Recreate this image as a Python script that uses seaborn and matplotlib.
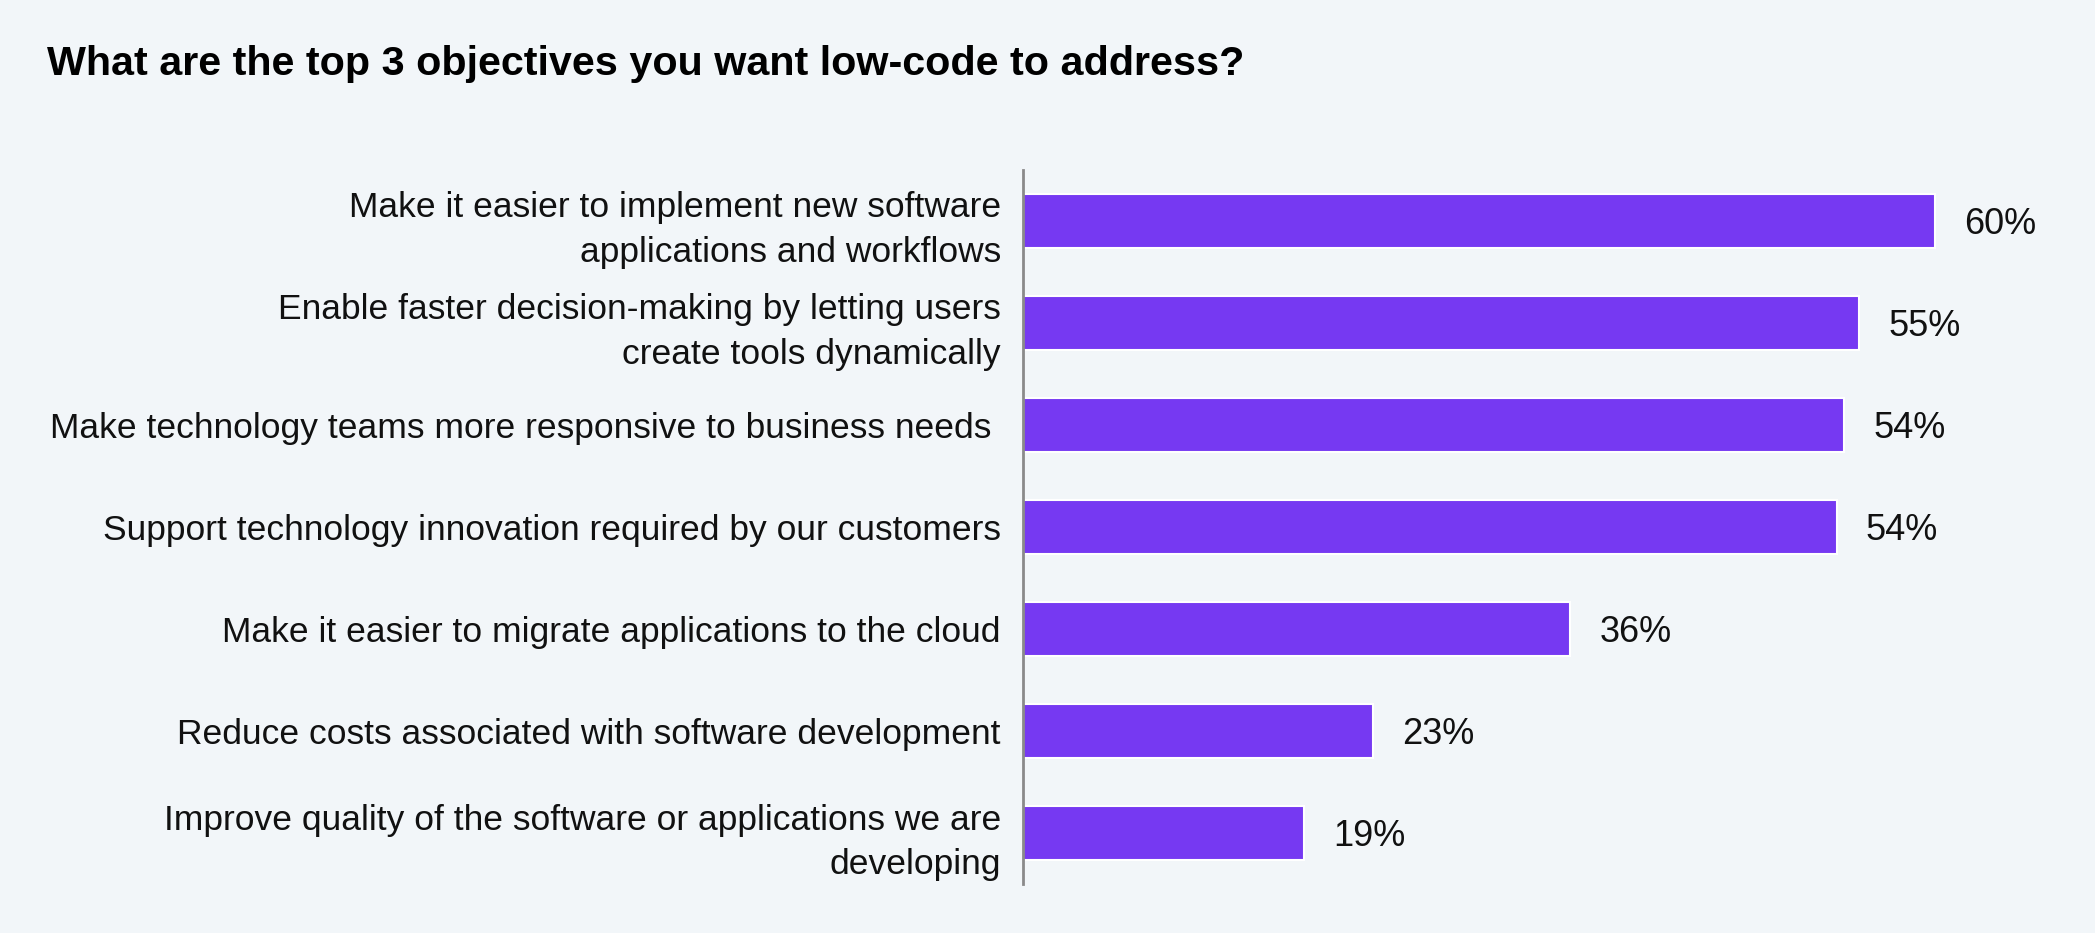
import matplotlib
matplotlib.use("Agg")
import matplotlib.pyplot as plt
import seaborn as sns
import pandas as pd

objectives = [
    "Make it easier to implement new software\napplications and workflows",
    "Enable faster decision-making by letting users\ncreate tools dynamically",
    "Make technology teams more responsive to business needs ",
    "Support technology innovation required by our customers",
    "Make it easier to migrate applications to the cloud",
    "Reduce costs associated with software development",
    "Improve quality of the software or applications we are\ndeveloping",
]
shares = [60, 55, 54, 53.5, 36, 23, 18.5]
value_labels = ["60%", "55%", "54%", "54%", "36%", "23%", "19%"]

bg = "#F2F6F9"
bar_color = "#7639F2"

sns.set_theme(style="white")
plt.rcParams["font.family"] = ["Liberation Sans", "DejaVu Sans"]

df = pd.DataFrame({"objective": objectives, "share": shares})

fig = plt.figure(figsize=(20.95, 9.33), dpi=100)
fig.patch.set_facecolor(bg)
ax = fig.add_axes([0.4883, 0.0525, 0.5117, 0.7653])
ax.set_facecolor(bg)

sns.barplot(data=df, y="objective", x="share", orient="h", color=bar_color,
            saturation=1, width=0.52, edgecolor="white", linewidth=1.5, ax=ax)

texts = ax.bar_label(ax.containers[0], labels=value_labels, padding=21,
                     fontsize=26, color="#111111")
# nudge the value labels down a touch, like the reference
for t in texts:
    t.xyann = (21, -2.5)

ax.set_xlim(0, 70.5)
ax.set_ylim(6.5, -0.5)
ax.set_xlabel("")
ax.set_ylabel("")
ax.set_xticks([])
for s in ["top", "right", "bottom"]:
    ax.spines[s].set_visible(False)
ax.spines["left"].set_color("#8a8a8a")
ax.spines["left"].set_linewidth(2)
ax.tick_params(axis="y", length=0, pad=16, labelsize=25.5, labelcolor="#111111")
for lbl in ax.get_yticklabels():
    lbl.set_linespacing(1.45)

fig.text(0.0224, 1 - 75 / 933, "What are the top 3 objectives you want low-code to address?",
         fontsize=29.7, fontweight="bold", color="#000000", va="baseline", ha="left")

fig.savefig("out.png", dpi=100, facecolor=bg)
